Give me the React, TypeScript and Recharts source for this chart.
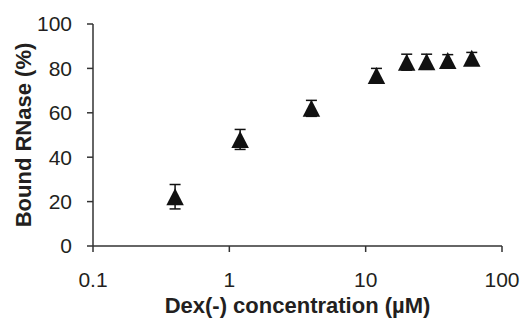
import { Scatter, ScatterChart, XAxis, YAxis, ErrorBar } from 'recharts'

const concentrations = [0.4, 1.2, 4, 12, 20, 28, 40, 60]
const boundPct = [22.2, 48, 62, 76.8, 82.8, 83, 83.6, 84.6]
const errPct = [5.5, 4.5, 3.6, 3.2, 3.6, 3.4, 2.6, 2.6]
const xTicks = [0.1, 1, 10, 100]
const yTicks = [0, 20, 40, 60, 80, 100]

const data = concentrations.map((x, i) => ({ x, y: boundPct[i], err: errPct[i] }))

const AXIS = '#333'
const TEXT = '#231f20'
const FONT = '"Liberation Sans", Arial, sans-serif'

const Triangle = (props: { cx?: number; cy?: number }) => {
  const cx = Number(props.cx ?? 0)
  const cy = Number(props.cy ?? 0)
  const w = 17.5
  const h = 17
  return (
    <polygon
      points={`${cx},${cy - h / 2} ${cx + w / 2},${cy + h / 2} ${cx - w / 2},${cy + h / 2}`}
      fill="#111"
    />
  )
}

// rotated y-axis title, placed by hand
const YLabel = () => {
  const x = 23
  const y = 135
  return (
    <text
      x={x}
      y={y}
      transform={`rotate(-90, ${x}, ${y})`}
      textAnchor="middle"
      dominantBaseline="central"
      fontFamily={FONT}
      fontWeight={700}
      fontSize={22}
      fill={TEXT}
    >
      Bound RNase (%)
    </text>
  )
}

export default function App() {
  return (
    <div style={{ position: 'absolute', left: 0, top: 0, background: '#fff' }}>
      <ScatterChart width={524} height={321} margin={{ top: 24, right: 22, bottom: 0, left: 33 }}>
        <XAxis
          type="number"
          dataKey="x"
          scale="log"
          domain={[0.1, 100]}
          ticks={xTicks}
          allowDataOverflow
          height={75}
          stroke={AXIS}
          strokeWidth={1.5}
          tickSize={6}
          tickMargin={20}
          tick={{ fill: TEXT, fontSize: 21, fontFamily: FONT }}
          tickFormatter={(v: number) => String(v)}
          label={{
            value: 'Dex(-) concentration (\u00b5M)',
            position: 'insideBottom',
            offset: 8,
            style: { fill: TEXT, fontSize: 22, fontWeight: 700, fontFamily: FONT },
          }}
        />
        <YAxis
          type="number"
          dataKey="y"
          domain={[0, 100]}
          ticks={yTicks}
          width={60}
          stroke={AXIS}
          strokeWidth={1.5}
          tickSize={6}
          tickMargin={15}
          tick={{ fill: TEXT, fontSize: 21, fontFamily: FONT }}
          label={<YLabel />}
        />
        <Scatter data={data} shape={<Triangle />} isAnimationActive={false}>
          <ErrorBar dataKey="err" direction="y" width={5.5} stroke="#111" strokeWidth={1.5} />
        </Scatter>
      </ScatterChart>
    </div>
  )
}
